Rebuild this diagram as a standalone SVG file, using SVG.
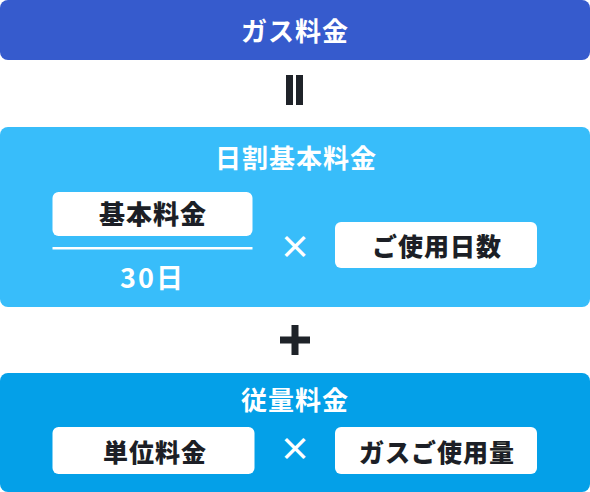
<svg xmlns="http://www.w3.org/2000/svg" width="590" height="492" viewBox="0 0 590 492">
<style>
.t{font-family:"Noto Sans CJK JP","Noto Sans",sans-serif;font-weight:700;text-anchor:middle}
.w{fill:#ffffff}
.d{fill:#1c1f26;font-weight:900}
.box{fill:#ffffff}
.x{font-family:"Noto Sans CJK JP","Noto Sans",sans-serif;font-weight:700;text-anchor:middle;fill:#ffffff;font-size:32px}
</style>
<g id="gas-fee">
<rect x="0" y="0" width="590" height="60" rx="8" fill="#365bcd"/>
<text class="t w" x="295" y="41" font-size="26" letter-spacing="1">ガス料金</text>
</g>
<g id="connectors">
<rect x="286" y="75" width="7" height="30" fill="#1f2329"/>
<rect x="296" y="75" width="7" height="30" fill="#1f2329"/>
<rect x="280" y="336.5" width="30" height="7" fill="#1f2329"/>
<rect x="291.5" y="325" width="7" height="30" fill="#1f2329"/>
</g>
<g id="daily-basic">
<rect x="0" y="127" width="590" height="180" rx="8" fill="#38bdfa"/>
<text class="t w" x="296" y="168" font-size="26" letter-spacing="1">日割基本料金</text>
</g>
<g id="basic-fee">
<rect class="box" x="52.5" y="192" width="200" height="44" rx="6"/>
<text class="t d" x="153" y="224" font-size="26" letter-spacing="1">基本料金</text>
</g>
<g id="fraction">
<rect x="52.5" y="247" width="200" height="2.5" fill="#ffffff"/>
<text class="t w" x="152.5" y="288" font-size="27" font-weight="400" letter-spacing="2">30日</text>
</g>
<g id="times1">
<text class="x" x="295" y="259">×</text>
</g>
<g id="usage-days">
<rect class="box" x="335" y="222" width="202" height="46" rx="6"/>
<text class="t d" x="437" y="256" font-size="25" letter-spacing="1">ご使用日数</text>
</g>
<g id="metered">
<rect x="0" y="373" width="590" height="119" rx="8" fill="#04a0e8"/>
<text class="t w" x="295" y="409.5" font-size="26" letter-spacing="1">従量料金</text>
</g>
<g id="unit-price">
<rect class="box" x="52.5" y="427" width="202" height="47" rx="6"/>
<text class="t d" x="155" y="462" font-size="25" letter-spacing="1">単位料金</text>
</g>
<g id="times2">
<text class="x" x="295" y="461">×</text>
</g>
<g id="gas-usage">
<rect class="box" x="335" y="427" width="202" height="47" rx="6"/>
<text class="t d" x="437" y="462" font-size="25" letter-spacing="1">ガスご使用量</text>
</g>
</svg>
